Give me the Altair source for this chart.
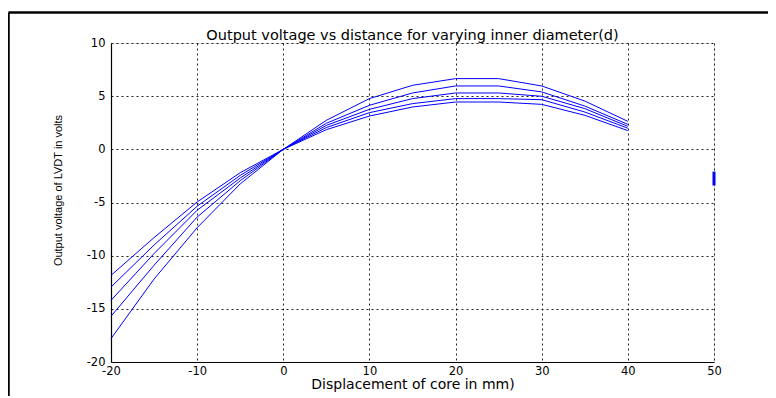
import altair as alt
import pandas as pd

# Data
x_vals = [-20, -15, -10, -5, 0, 5, 10, 15, 20, 25, 30, 35, 40]
s1 = [-11.85, -8.3, -4.95, -2.2, 0, 2.73, 4.77, 6.02, 6.65, 6.65, 5.96, 4.54, 2.63]
s2 = [-12.95, -9.0, -5.35, -2.45, 0, 2.45, 4.14, 5.30, 5.96, 5.96, 5.40, 4.07, 2.35]
s3 = [-14.2, -9.8, -5.73, -2.7, 0, 2.25, 3.76, 4.77, 5.30, 5.30, 4.99, 3.83, 2.16]
s4 = [-15.7, -10.9, -6.37, -2.95, 0, 2.05, 3.45, 4.30, 4.77, 4.77, 4.67, 3.51, 1.98]
s5 = [-17.8, -12.2, -7.37, -3.25, 0, 1.85, 3.13, 3.98, 4.45, 4.45, 4.23, 3.20, 1.76]
series_names = ["d1", "d2", "d3", "d4", "d5"]

stray_x = [50]
stray_y = [-2.1]
stray_y2 = [-3.4]

x_ticks = [-20, -10, 0, 10, 20, 30, 40, 50]
y_ticks = [-20, -15, -10, -5, 0, 5, 10]

rows = []
for name, vals in zip(series_names, [s1, s2, s3, s4, s5]):
    for xv, yv in zip(x_vals, vals):
        rows.append({"x": xv, "y": yv, "series": name})
df = pd.DataFrame(rows)
df_stray = pd.DataFrame({"x": stray_x, "y": stray_y, "y2": stray_y2})

WIDE = "DejaVu Sans"
NARROW = "Liberation Sans"

xscale = alt.Scale(domain=[-20, 50], nice=False, zero=False)
yscale = alt.Scale(domain=[-20, 10], nice=False, zero=False)

grid_kw = dict(grid=True, gridColor="#222222", gridDash=[2, 3], gridWidth=1,
               domainColor="black", domainWidth=1.2, ticks=False, labelFlush=False,
               labelFont=WIDE, labelFontSize=11.5, labelColor="black",
               labelExpr="'' + datum.value",
               titleFontWeight="normal", titleColor="black")

lines = alt.Chart(df).mark_line(strokeWidth=1, clip=False).encode(
    x=alt.X("x:Q", scale=xscale,
            axis=alt.Axis(values=x_ticks, labelPadding=3, title="Displacement of core in mm)",
                          titleFont=WIDE, titleFontSize=14, titlePadding=1, **grid_kw)),
    y=alt.Y("y:Q", scale=yscale,
            axis=alt.Axis(values=y_ticks, labelPadding=6, title="Output voltage of LVDT in volts",
                          titleFont=NARROW, titleFontSize=11, titlePadding=23, titleY=147,
                          **grid_kw)),
    color=alt.Color("series:N", scale=alt.Scale(range=["#0000ff"] * 5), legend=None),
)

stray = alt.Chart(df_stray).mark_rule(color="#0000ff", strokeWidth=3).encode(
    x="x:Q", y="y:Q", y2="y2:Q"
)

frame_left = alt.Chart(df_stray).mark_rule(color="black", strokeWidth=2.5).encode(
    x=alt.value(-102.5), y=alt.value(-30.5), y2=alt.value(372)
)
frame_top = alt.Chart(df_stray).mark_rule(color="black", strokeWidth=2.5).encode(
    x=alt.value(-102.5), x2=alt.value(700), y=alt.value(-30.5)
)

chart = alt.layer(frame_left, frame_top, lines, stray).properties(
    width=603, height=319,
    title=alt.TitleParams("Output voltage vs distance for varying inner diameter(d)",
                          font=WIDE, fontSize=14.5, fontWeight="normal", color="black",
                          offset=5, dy=37),
    autosize=alt.AutoSizeParams(type="none"),
    padding={"left": 103, "top": 35, "right": 54, "bottom": 34},
).configure_view(stroke="black", strokeWidth=1.2).configure(background="white")

chart.save("out.html", embed_options={"renderer": "svg", "actions": False})
